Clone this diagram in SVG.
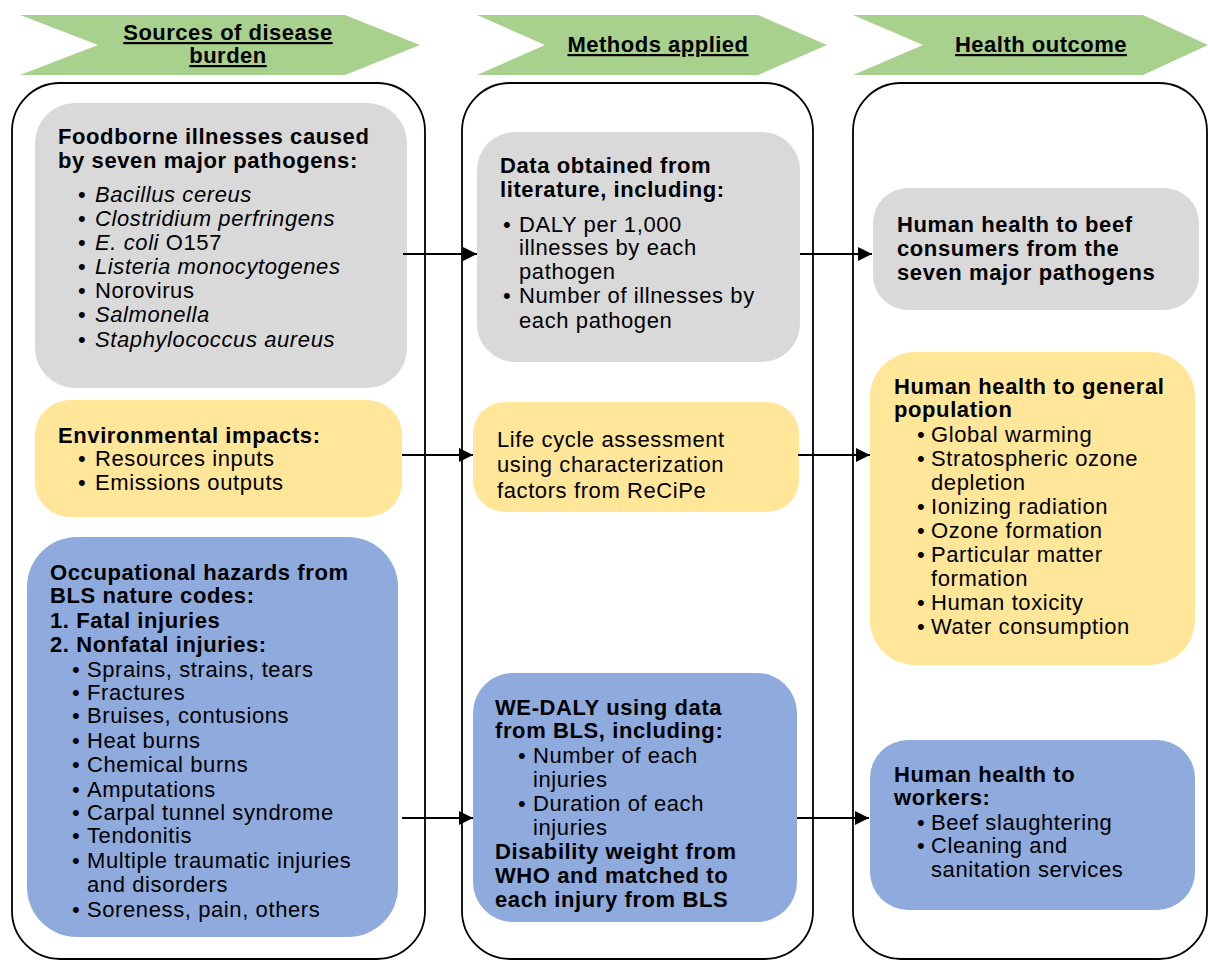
<svg xmlns="http://www.w3.org/2000/svg" width="1208" height="960" viewBox="0 0 1208 960">
<style>
text{font-family:"Liberation Sans",Arial,sans-serif;font-size:22px;fill:#000;letter-spacing:0.6px}
.b{font-weight:bold}
.i{font-style:italic}
.h{font-weight:bold;text-decoration:underline;text-anchor:middle;letter-spacing:0.5px}
.chev{fill:#A9D18E}
.col{fill:#fff;stroke:#000;stroke-width:1.8}
.gray{fill:#D9D9D9}
.yel{fill:#FFE699}
.blue{fill:#8FAADC}
.conn line{stroke:#000;stroke-width:1.8;marker-end:url(#ah)}
</style>
<defs>
<marker id="ah" markerUnits="userSpaceOnUse" markerWidth="14" markerHeight="14" refX="14" refY="7" orient="auto">
<path d="M0,0 L14,7 L0,14 z" fill="#000"/>
</marker>
</defs>
<rect width="1208" height="960" fill="#fff"/>
<g id="header1">
<polygon class="chev" points="20,15 345,15 420,45 345,75 20,75 98,45"/>
<text class="h" x="228" y="40">Sources of disease</text>
<text class="h" x="228" y="63">burden</text>
</g>
<g id="header2">
<polygon class="chev" points="477,15 758,15 827,45 758,75 477,75 545,45"/>
<text class="h" x="658" y="52">Methods applied</text>
</g>
<g id="header3">
<polygon class="chev" points="853,15 1143,15 1208,45 1143,75 853,75 923,45"/>
<text class="h" x="1041" y="52">Health outcome</text>
</g>
<g id="column1"><rect class="col" x="12" y="83" width="413" height="876" rx="48"/></g>
<g id="column2"><rect class="col" x="462" y="83" width="351" height="876" rx="48"/></g>
<g id="column3"><rect class="col" x="853" y="83" width="354" height="876" rx="48"/></g>

<g id="foodborne">
<rect class="gray" x="35" y="103" width="372" height="285" rx="40"/>
<text class="b" x="58" y="144">Foodborne illnesses caused</text>
<text class="b" x="58" y="168">by seven major pathogens:</text>
<text x="78" y="202">•</text><text class="i" x="95" y="202">Bacillus cereus</text>
<text x="78" y="226">•</text><text class="i" x="95" y="226">Clostridium perfringens</text>
<text x="78" y="250">•</text><text x="95" y="250"><tspan class="i">E. coli</tspan> O157</text>
<text x="78" y="274">•</text><text class="i" x="95" y="274">Listeria monocytogenes</text>
<text x="78" y="298">•</text><text x="95" y="298">Norovirus</text>
<text x="78" y="322">•</text><text class="i" x="95" y="322">Salmonella</text>
<text x="78" y="347">•</text><text class="i" x="95" y="347">Staphylococcus aureus</text>
</g>
<g id="environmental">
<rect class="yel" x="35" y="400" width="367" height="117" rx="35"/>
<text class="b" x="58" y="443">Environmental impacts:</text>
<text x="78" y="466">•</text><text x="95" y="466">Resources inputs</text>
<text x="78" y="490">•</text><text x="95" y="490">Emissions outputs</text>
</g>
<g id="occupational">
<rect class="blue" x="27" y="537" width="371" height="400" rx="50"/>
<text class="b" x="50" y="580">Occupational hazards from</text>
<text class="b" x="50" y="603">BLS nature codes:</text>
<text class="b" x="50" y="628">1. Fatal injuries</text>
<text class="b" x="50" y="652">2. Nonfatal injuries:</text>
<text x="72" y="677">•</text><text x="87" y="677">Sprains, strains, tears</text>
<text x="72" y="700">•</text><text x="87" y="700">Fractures</text>
<text x="72" y="723">•</text><text x="87" y="723">Bruises, contusions</text>
<text x="72" y="748">•</text><text x="87" y="748">Heat burns</text>
<text x="72" y="772">•</text><text x="87" y="772">Chemical burns</text>
<text x="72" y="797">•</text><text x="87" y="797">Amputations</text>
<text x="72" y="820">•</text><text x="87" y="820">Carpal tunnel syndrome</text>
<text x="72" y="843">•</text><text x="87" y="843">Tendonitis</text>
<text x="72" y="868">•</text><text x="87" y="868">Multiple traumatic injuries</text>
<text x="87" y="892">and disorders</text>
<text x="72" y="917">•</text><text x="87" y="917">Soreness, pain, others</text>
</g>

<g id="data-literature">
<rect class="gray" x="477" y="132" width="323" height="230" rx="38"/>
<text class="b" x="500" y="173">Data obtained from</text>
<text class="b" x="500" y="197">literature, including:</text>
<text x="503" y="232">•</text><text x="519" y="232">DALY per 1,000</text>
<text x="519" y="255">illnesses by each</text>
<text x="519" y="279">pathogen</text>
<text x="503" y="303">•</text><text x="519" y="303">Number of illnesses by</text>
<text x="519" y="328">each pathogen</text>
</g>
<g id="lca">
<rect class="yel" x="473" y="402" width="326" height="110" rx="32"/>
<text x="497" y="447">Life cycle assessment</text>
<text x="497" y="472">using characterization</text>
<text x="497" y="498">factors from ReCiPe</text>
</g>
<g id="we-daly">
<rect class="blue" x="473" y="673" width="324" height="249" rx="40"/>
<text class="b" x="495" y="715">WE-DALY using data</text>
<text class="b" x="495" y="738">from BLS, including:</text>
<text x="518" y="763">•</text><text x="533" y="763">Number of each</text>
<text x="533" y="787">injuries</text>
<text x="518" y="811">•</text><text x="533" y="811">Duration of each</text>
<text x="533" y="835">injuries</text>
<text class="b" x="495" y="859">Disability weight from</text>
<text class="b" x="495" y="883">WHO and matched to</text>
<text class="b" x="495" y="907">each injury from BLS</text>
</g>

<g id="beef-consumers">
<rect class="gray" x="873" y="188" width="326" height="122" rx="35"/>
<text class="b" x="897" y="232">Human health to beef</text>
<text class="b" x="897" y="256">consumers from the</text>
<text class="b" x="897" y="280">seven major pathogens</text>
</g>
<g id="general-population">
<rect class="yel" x="870" y="352" width="325" height="313" rx="45"/>
<text class="b" x="894" y="394">Human health to general</text>
<text class="b" x="894" y="417">population</text>
<text x="917" y="442">•</text><text x="931" y="442">Global warming</text>
<text x="917" y="466">•</text><text x="931" y="466">Stratospheric ozone</text>
<text x="931" y="490">depletion</text>
<text x="917" y="514">•</text><text x="931" y="514">Ionizing radiation</text>
<text x="917" y="538">•</text><text x="931" y="538">Ozone formation</text>
<text x="917" y="562">•</text><text x="931" y="562">Particular matter</text>
<text x="931" y="586">formation</text>
<text x="917" y="610">•</text><text x="931" y="610">Human toxicity</text>
<text x="917" y="634">•</text><text x="931" y="634">Water consumption</text>
</g>
<g id="workers">
<rect class="blue" x="870" y="740" width="325" height="170" rx="38"/>
<text class="b" x="894" y="782">Human health to</text>
<text class="b" x="894" y="805">workers:</text>
<text x="917" y="830">•</text><text x="931" y="830">Beef slaughtering</text>
<text x="917" y="853">•</text><text x="931" y="853">Cleaning and</text>
<text x="931" y="877">sanitation services</text>
</g>

<g id="connectors" class="conn">
<line x1="403" y1="254" x2="477" y2="254"/>
<line x1="800" y1="254" x2="872" y2="254"/>
<line x1="402" y1="455" x2="473" y2="455"/>
<line x1="798" y1="455" x2="870" y2="455"/>
<line x1="402" y1="818" x2="473" y2="818"/>
<line x1="797" y1="818" x2="869" y2="818"/>
</g>
</svg>
